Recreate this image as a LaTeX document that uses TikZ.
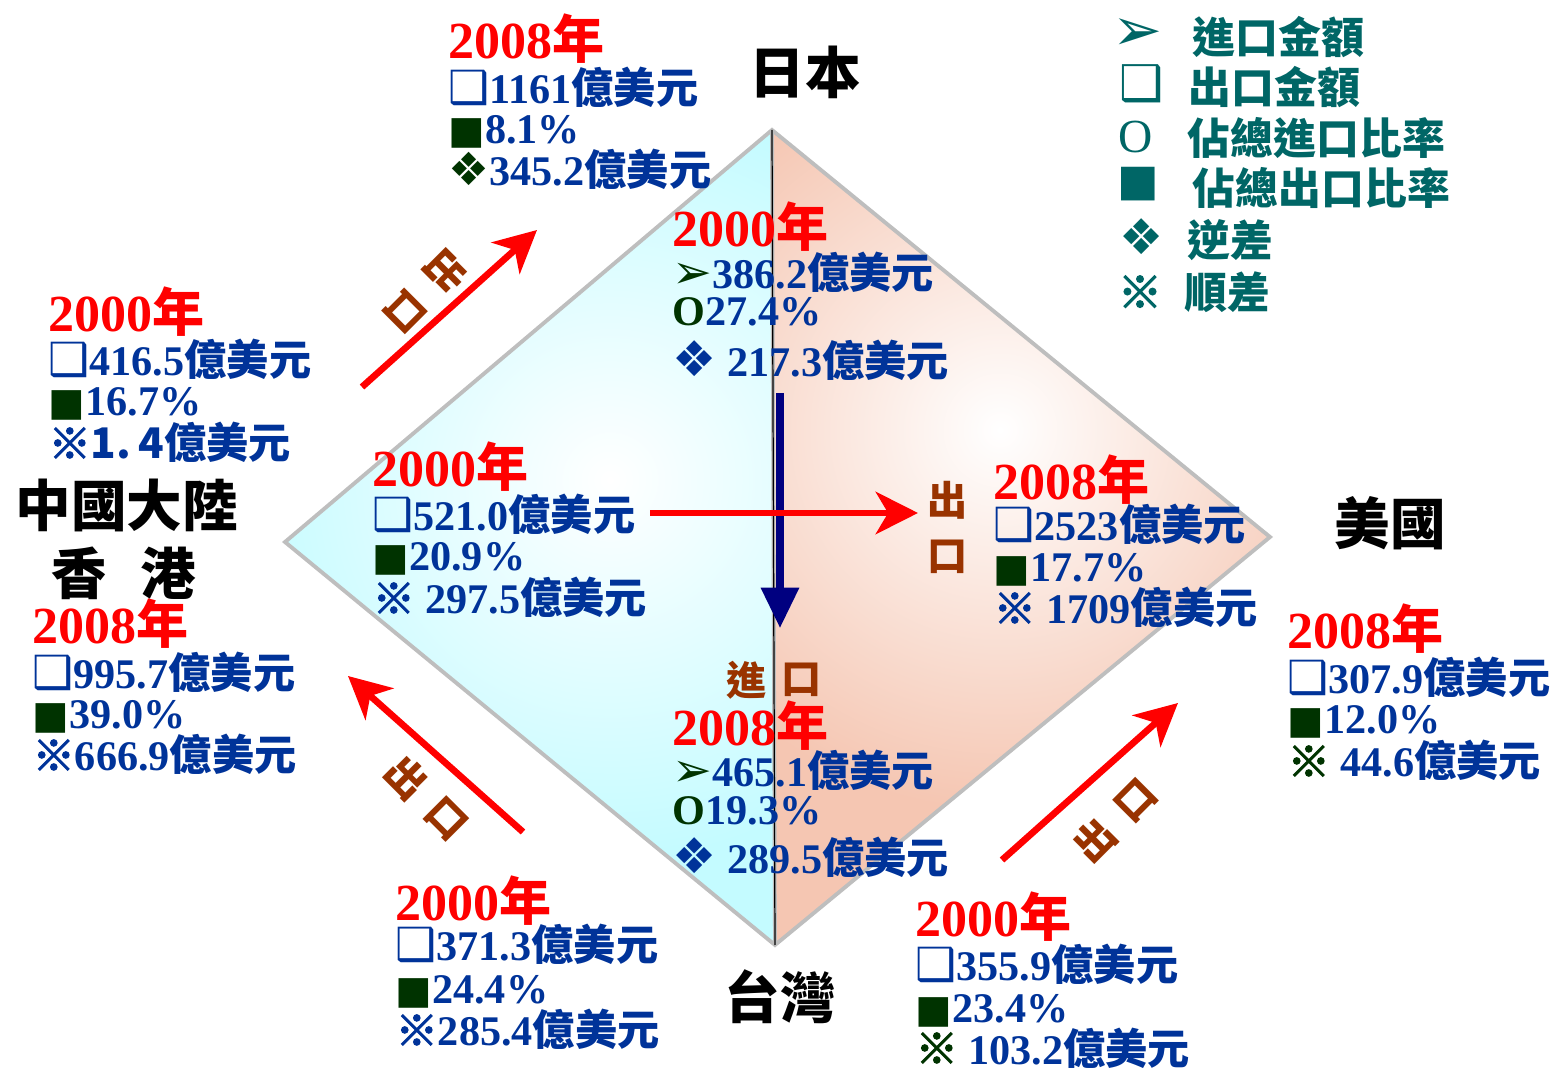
\documentclass[tikz,border=0pt]{standalone}
\usepackage{fontspec}
\setmainfont{Liberation Serif}
\newfontfamily\cjkB{Noto Sans CJK TC Black}[BoldFont=*]
\newfontfamily\cjkF{Noto Sans CJK TC Black}[FakeBold=3]
\newfontfamily\cjkR{Noto Sans CJK TC}
\newfontfamily\sym{DejaVu Sans}
\usetikzlibrary{arrows.meta}
\definecolor{yred}{HTML}{FF0000}
\definecolor{tblue}{HTML}{003399}
\definecolor{dkg}{HTML}{003300}
\definecolor{tealc}{HTML}{006666}
\definecolor{brn}{HTML}{993300}
\definecolor{navyc}{HTML}{000080}
\definecolor{cyanb}{HTML}{C4FBFF}
\definecolor{peach}{HTML}{F5C6B2}
\definecolor{bord}{HTML}{BEBEBE}
\newcommand\U{{\cjkB 億美元}}
\newcommand\N{{\cjkB 年}}
\newcommand\Sq{{\color{tblue}\sym\fontsize{13}{14}\selectfont ❑}}
\newcommand\Bk{{\color{dkg}\sym\fontsize{11}{14}\selectfont ■}}
\newcommand\DmG{{\color{dkg}\sym\fontsize{13}{14}\selectfont ❖}}
\newcommand\DmB{{\color{tblue}\sym\fontsize{14}{14}\selectfont ❖}}
\newcommand\RfB{{\color{tblue}\cjkF\mdseries ※}}
\newcommand\RfG{{\color{dkg}\cjkF\mdseries ※}}
\newcommand\Ar{{\color{dkg}\sym\fontsize{13.5}{14}\selectfont ➢}}
\newcommand\Oo{{\color{dkg}O}}
\begin{document}
\begin{tikzpicture}[x=0.01cm,y=-0.01cm,
  yr/.style={anchor=base west, inner sep=0, text=yred, font=\fontsize{14.8}{16}\selectfont\bfseries},
  ln/.style={anchor=base west, inner sep=0, text=tblue, font=\fontsize{12}{14}\selectfont\bfseries},
  ttl/.style={inner sep=0, text=black, font=\cjkB\fontsize{15.8}{18}\selectfont},
  brlab/.style={inner sep=0, text=brn, font=\cjkB\fontsize{11.4}{13}\selectfont},
  legsym/.style={inner sep=0, text=tealc},
  legtxt/.style={anchor=west, inner sep=0, text=tealc, font=\cjkB\fontsize{12.2}{14}\selectfont},
  redarrow/.style={draw=yred, line width=1.9pt, -{Stealth[length=12pt,width=12pt,inset=3.5pt]}},
  navyarrow/.style={draw=navyc, line width=2pt, -{Triangle[length=11.5pt,width=10.5pt]}}]
\useasboundingbox (0,0) rectangle (1550,1070);
% diamond
\coordinate (T) at (772,130);
\coordinate (L) at (285,542);
\coordinate (R) at (1270,537);
\coordinate (B) at (775,945);
\fill[cyanb] (T)--(L)--(B)--cycle;
\begin{scope}
  \clip (T)--(L)--(B)--cycle;
  \shade[inner color=white, outer color=cyanb] (610,480) circle (380);
\end{scope}
\fill[peach] (T)--(R)--(B)--cycle;
\begin{scope}
  \clip (T)--(R)--(B)--cycle;
  \shade[inner color=white, outer color=peach] (1000,430) circle (380);
\end{scope}
\draw[bord, line width=1.1pt, line join=miter] (T)--(R)--(B)--(L)--cycle;
\draw[bord, line width=1.1pt] (T)--(B);
\draw[black, line width=0.35pt] (T)--(B);
% arrows
\coordinate (nv1) at (780,393);
\coordinate (nv2) at (780,628);
\draw[navyarrow] (nv1)--(nv2);
\coordinate (h1) at (650,513);
\coordinate (h2) at (918,513);
\draw[redarrow] (h1)--(h2);
\coordinate (tl1) at (362,387);
\coordinate (tl2) at (537,230);
\draw[redarrow] (tl1)--(tl2);
\coordinate (bl1) at (523,832);
\coordinate (bl2) at (348,676);
\draw[redarrow] (bl1)--(bl2);
\coordinate (br1) at (1002,860);
\coordinate (br2) at (1178,703);
\draw[redarrow] (br1)--(br2);
% brown labels
\node[brlab, rotate=-135] (lbtl) at (426,292) {出\hspace{4.8pt}口};
\node[brlab, rotate=-45] (lbbl) at (427,798) {出\hspace{4.8pt}口};
\node[brlab, rotate=45] (lbbr) at (1115,820) {出\hspace{4.8pt}口};
\node[brlab] (lbh1) at (948,500) {出};
\node[brlab] (lbh2) at (948,557) {口};
\node[brlab] (lbv1) at (747,680) {進};
\node[brlab] (lbv2) at (802,680) {口};
% titles
\node[ttl] (jp) at (805,72) {日本};
\node[ttl] (us) at (1390,523) {美國};
\node[ttl] (cn) at (127,505) {中國大陸};
\node[ttl] (hk) at (124,573) {香\hspace{9.4pt}港};
\node[ttl] (tw) at (780,997) {台灣};
% legend
\node[legsym, font=\sym\fontsize{17}{14}\selectfont] (s1) at (1138,35) {➢};
\node[legsym, font=\sym\fontsize{14}{14}\selectfont] (s2) at (1142,84) {❑};
\node[legsym, font=\fontsize{13.5}{14}\selectfont] (s3) at (1136,137) {O};
\node[legsym, font=\sym\fontsize{12.5}{14}\selectfont] (s4) at (1138,184) {■};
\node[legsym, font=\sym\fontsize{14}{14}\selectfont] (s5) at (1142,237) {❖};
\node[legsym, font=\cjkF\fontsize{12.5}{14}\selectfont] (s6) at (1140,292) {※};
\node[legtxt] (t1) at (1192,37) {進口金額};
\node[legtxt] (t2) at (1188,87) {出口金額};
\node[legtxt] (t3) at (1187,138) {佔總進口比率};
\node[legtxt] (t4) at (1192,188) {佔總出口比率};
\node[legtxt] (t5) at (1187,240) {逆差};
\node[legtxt] (t6) at (1184,292) {順差};
% block A
\node[yr] (a0) at (448,59) {2008\N};
\node[ln] (a1) at (448,104) {\Sq1161\U};
\node[ln] (a2) at (448,144) {\Bk8.1\%};
\node[ln] (a3) at (448,186) {\DmG345.2\U};
% block B
\node[yr] (b0) at (48,332) {2000\N};
\node[ln] (b1) at (48,376) {\Sq416.5\U};
\node[ln] (b2) at (48,416) {\Bk16.7\%};
\node[ln] (b3) at (48,459) {\RfB{\cjkB 1.\,4}\U};
% block C
\node[yr] (c0) at (672,247) {2000\N};
\node[ln] (c1) at (672,289) {\Ar386.2\U};
\node[ln] (c2) at (672,326) {\Oo27.4\%};
\node[ln] (c3) at (672,377) {\DmB\ 217.3\U};
% block D
\node[yr] (d0) at (372,487) {2000\N};
\node[ln] (d1) at (372,531) {\Sq521.0\U};
\node[ln] (d2) at (372,571) {\Bk20.9\%};
\node[ln] (d3) at (372,614) {\RfB\ 297.5\U};
% block E
\node[yr] (e0) at (993,500) {2008\N};
\node[ln] (e1) at (993,541) {\Sq2523\U};
\node[ln] (e2) at (993,582) {\Bk17.7\%};
\node[ln] (e3) at (993,624) {\RfB\ 1709\U};
% block F
\node[yr] (f0) at (32,644) {2008\N};
\node[ln] (f1) at (32,689) {\Sq995.7\U};
\node[ln] (f2) at (32,729) {\Bk39.0\%};
\node[ln] (f3) at (32,771) {\RfB666.9\U};
% block G
\node[yr] (g0) at (672,745) {2008\N};
\node[ln] (g1) at (672,787) {\Ar465.1\U};
\node[ln] (g2) at (672,824) {\Oo19.3\%};
\node[ln] (g3) at (672,874) {\DmB\ 289.5\U};
% block H
\node[yr] (h0) at (1287,649) {2008\N};
\node[ln] (h1n) at (1287,694) {\Sq307.9\U};
\node[ln] (h2n) at (1287,734) {\Bk12.0\%};
\node[ln] (h3n) at (1287,777) {\RfG\ 44.6\U};
% block I
\node[yr] (i0) at (395,920) {2000\N};
\node[ln] (i1) at (395,961) {\Sq371.3\U};
\node[ln] (i2) at (395,1004) {\Bk24.4\%};
\node[ln] (i3) at (395,1046) {\RfB285.4\U};
% block J
\node[yr] (j0) at (915,937) {2000\N};
\node[ln] (j1) at (915,981) {\Sq355.9\U};
\node[ln] (j2) at (915,1022) {\Bk23.4\%};
\node[ln] (j3) at (915,1064) {\RfG\ 103.2\U};
\end{tikzpicture}
\end{document}
